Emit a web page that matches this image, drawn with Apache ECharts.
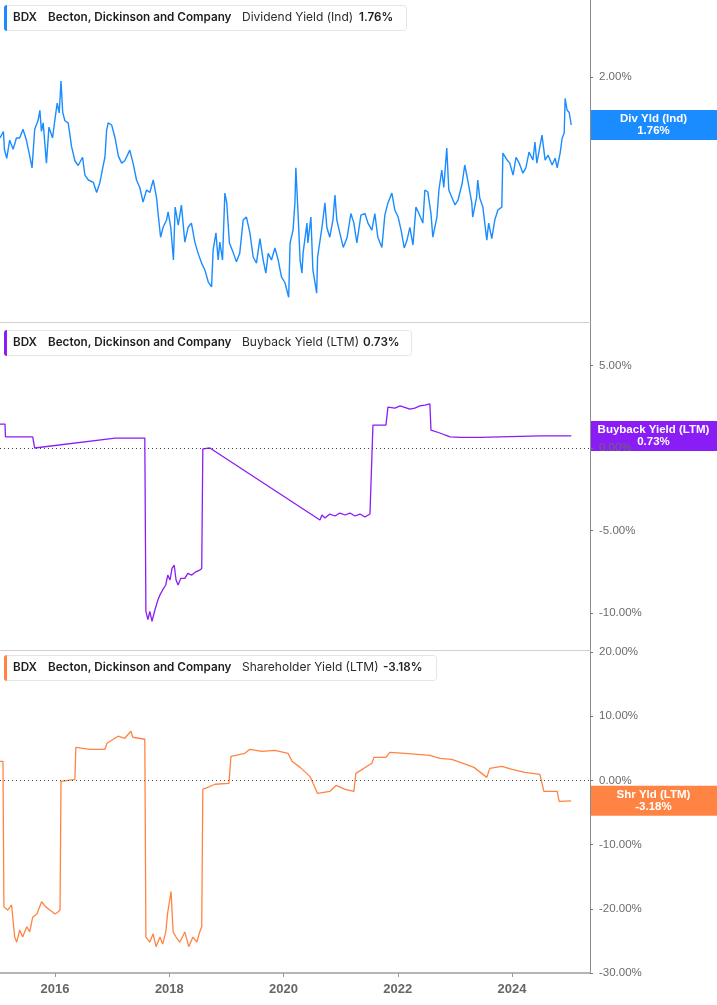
<!DOCTYPE html>
<html>
<head>
<meta charset="utf-8">
<script src="https://cdn.jsdelivr.net/npm/echarts@6/dist/echarts.min.js"></script>
<style>
html,body{margin:0;padding:0;background:#fff;}
#chart{width:717px;height:1005px;}
</style>
</head>
<body>
<div id="chart"></div>
<script>
// ---------- DATA ----------
const TICKER = 'BDX';
const COMPANY = 'Becton, Dickinson and Company';
const METRICS = ['Dividend Yield (Ind)', 'Buyback Yield (LTM)', 'Shareholder Yield (LTM)'];
const SHORT_NAMES = ['Div Yld (Ind)', 'Buyback Yield (LTM)', 'Shr Yld (LTM)'];
const LAST_VALUES = [1.76, 0.73, -3.18];
const YEAR_TICKS = ['2016-01-01','2018-01-01','2020-01-01','2022-01-01','2024-01-01'];
const DIV_TICKS = [2];
const BUY_TICKS = [5, 0, -5, -10];
const SHR_TICKS = [20, 10, 0, -10, -20, -30];

const dyDates = ['2015-01-14','2015-02-05','2015-02-11','2015-02-26','2015-03-17','2015-04-08','2015-04-29','2015-05-20','2015-06-10','2015-07-02','2015-07-23','2015-08-07','2015-08-24','2015-09-14','2015-09-26','2015-10-06','2015-10-17','2015-11-07','2015-11-23','2015-12-16',
'2016-01-01','2016-01-15','2016-01-28','2016-02-08','2016-02-19','2016-03-04','2016-03-25','2016-04-16','2016-05-07','2016-05-28','2016-06-25','2016-07-10','2016-08-01','2016-09-02','2016-09-23','2016-10-14','2016-11-04','2016-11-15','2016-11-26','2016-12-06','2016-12-28',
'2017-01-19','2017-02-09','2017-03-02','2017-03-22','2017-04-23','2017-05-14','2017-06-05','2017-06-26','2017-07-17','2017-08-08','2017-08-29','2017-09-20','2017-10-11','2017-10-21','2017-11-06','2017-11-22','2017-12-14','2017-12-24',
'2018-01-10','2018-01-27','2018-02-07','2018-02-27','2018-03-19','2018-04-10','2018-05-01','2018-05-22','2018-06-13','2018-07-04','2018-07-26','2018-08-16','2018-09-07','2018-09-28','2018-10-08','2018-10-26','2018-11-09','2018-11-20','2018-12-07','2018-12-22',
'2019-01-03','2019-01-20','2019-02-15','2019-03-06','2019-03-27','2019-04-18','2019-05-09','2019-05-31','2019-06-21','2019-07-12','2019-08-03','2019-08-24','2019-09-10','2019-09-25','2019-10-16','2019-11-07','2019-11-28','2019-12-19',
'2020-01-11','2020-02-03','2020-02-12','2020-03-02','2020-03-14','2020-03-20','2020-04-03','2020-04-16','2020-04-28','2020-05-05','2020-05-30','2020-06-05','2020-06-24','2020-07-07','2020-07-31','2020-08-06','2020-09-03','2020-09-22','2020-10-04','2020-10-23','2020-11-12','2020-11-25','2020-12-07','2020-12-26',
'2021-01-17','2021-02-11','2021-03-07','2021-03-26','2021-04-14','2021-05-10','2021-06-05','2021-06-24','2021-07-19','2021-08-07','2021-08-26','2021-09-21','2021-10-10','2021-10-30','2021-11-24','2021-12-13',
'2022-01-03','2022-01-22','2022-02-11','2022-03-01','2022-03-19','2022-04-08','2022-04-27','2022-05-16','2022-06-10','2022-06-23','2022-07-12','2022-08-01','2022-08-13','2022-09-08','2022-09-21','2022-10-09','2022-10-22','2022-11-10','2022-11-23','2022-12-12',
'2023-01-02','2023-01-21','2023-02-17','2023-03-05','2023-03-24','2023-04-19','2023-04-25','2023-05-20','2023-05-27','2023-06-09','2023-06-29','2023-07-24','2023-08-05','2023-08-25','2023-09-13','2023-10-03','2023-10-28','2023-11-04','2023-12-01','2023-12-18',
'2024-01-08','2024-01-27','2024-02-16','2024-03-11','2024-03-30','2024-04-19','2024-05-14','2024-05-27','2024-06-08','2024-07-11','2024-07-31','2024-08-19','2024-09-14','2024-10-03','2024-10-16','2024-11-04','2024-11-17','2024-11-30','2024-12-06','2024-12-18',
'2025-01-01','2025-01-14'];
const dyValues = [1.70,1.73,1.65,1.61,1.69,1.65,1.70,1.70,1.74,1.69,1.62,1.57,1.74,1.78,1.83,1.73,1.77,1.59,1.75,1.70,
1.79,1.866,1.817,1.979,1.82,1.78,1.77,1.66,1.60,1.58,1.615,1.54,1.52,1.51,1.47,1.51,1.58,1.615,1.736,1.77,1.76,
1.70,1.62,1.59,1.60,1.646,1.59,1.52,1.49,1.433,1.48,1.47,1.52,1.45,1.39,1.305,1.34,1.366,1.396,
1.34,1.228,1.414,1.348,1.422,1.288,1.34,1.355,1.288,1.25,1.218,1.196,1.158,1.143,1.261,1.32,1.228,1.288,1.228,1.468,
1.43,1.285,1.25,1.222,1.25,1.366,1.377,1.32,1.238,1.218,1.30,1.228,1.186,1.25,1.228,1.268,1.228,1.174,
1.155,1.112,1.285,1.33,1.43,1.57,1.39,1.228,1.186,1.25,1.355,1.285,1.377,1.196,1.124,1.238,1.34,1.43,1.34,1.305,1.366,1.46,1.366,1.32,
1.27,1.305,1.39,1.355,1.285,1.384,1.39,1.355,1.33,1.39,1.305,1.27,1.384,1.43,1.468,1.403,
1.377,1.33,1.268,1.295,1.34,1.278,1.414,1.39,1.355,1.48,1.472,1.39,1.305,1.377,1.48,1.561,1.49,1.655,1.48,1.452,
1.422,1.441,1.508,1.582,1.52,1.43,1.377,1.452,1.52,1.449,1.414,1.295,1.355,1.30,1.366,1.403,1.414,1.633,1.603,1.59,
1.54,1.615,1.59,1.548,1.57,1.637,1.603,1.682,1.59,1.713,1.603,1.624,1.582,1.611,1.57,1.633,1.70,1.722,1.889,1.832,
1.82,1.76];

const bbDates = ['2015-01-14','2015-02-15','2015-02-18','2015-08-11','2015-08-24','2017-01-19','2017-07-28','2017-08-04','2017-08-17','2017-08-29','2017-09-12','2017-10-01','2017-10-20','2017-11-02','2017-11-19','2017-12-09','2017-12-22',
'2018-01-05','2018-01-18','2018-02-01','2018-02-13','2018-02-26','2018-03-15','2018-04-10','2018-04-29','2018-05-24','2018-06-19','2018-07-14','2018-07-27','2018-08-03','2018-09-17',
'2020-08-21','2020-09-03','2020-09-22','2020-10-23','2020-11-25','2020-12-26','2021-01-29','2021-03-01','2021-04-02','2021-05-04','2021-06-05','2021-07-07','2021-07-19','2021-07-26','2021-10-17','2021-10-30','2021-12-13',
'2022-01-16','2022-03-19','2022-04-20','2022-05-22','2022-06-23','2022-07-25','2022-08-01','2022-09-27','2022-10-29','2022-12-01','2023-02-03','2023-06-09','2023-10-16','2024-02-22','2024-06-28','2024-11-04','2025-01-14'];
const bbValues = [1.45,1.45,0.67,0.67,0.0,0.6,0.6,-9.9,-10.4,-9.9,-10.5,-9.8,-9.2,-8.9,-8.6,-8.3,-7.7,
-8.0,-7.3,-7.1,-8.0,-8.3,-7.9,-7.9,-7.6,-7.7,-7.5,-7.4,-7.3,-0.05,0.0,
-4.36,-4.06,-4.24,-4.0,-4.12,-3.94,-4.06,-3.94,-4.12,-4.0,-4.18,-4.0,-3.94,1.39,1.39,2.48,2.42,
2.55,2.36,2.42,2.55,2.6,2.67,1.09,0.91,0.79,0.67,0.64,0.64,0.67,0.70,0.73,0.73,0.73];

const syDates = ['2015-01-14','2015-02-02','2015-02-08','2015-03-04','2015-03-29','2015-04-18','2015-05-01','2015-05-20','2015-06-08','2015-07-04','2015-07-23','2015-08-11','2015-09-07','2015-10-07','2015-11-03','2015-11-28',
'2016-01-01','2016-01-20','2016-02-02','2016-02-08','2016-05-07','2016-05-13','2016-08-11','2016-11-15','2016-11-28',
'2017-02-07','2017-03-22','2017-04-30','2017-05-12','2017-07-28','2017-08-04','2017-08-29','2017-09-19','2017-10-08','2017-11-02','2017-11-19','2017-12-09','2017-12-22',
'2018-01-12','2018-01-25','2018-02-13','2018-03-09','2018-04-10','2018-05-05','2018-06-01','2018-06-26','2018-07-14','2018-07-27','2018-08-03','2018-10-20',
'2019-01-17','2019-01-30','2019-04-29','2019-05-31','2019-08-16','2019-11-07',
'2020-01-30','2020-02-24','2020-04-16','2020-06-18','2020-08-06','2020-10-23','2020-12-02',
'2021-01-29','2021-03-26','2021-04-08','2021-07-19','2021-08-01','2021-10-17','2021-11-11',
'2022-02-17','2022-07-25','2022-09-27','2022-12-12',
'2023-02-23','2023-05-03','2023-07-24','2023-08-12','2023-10-28',
'2024-01-02','2024-03-24','2024-06-28','2024-07-23','2024-10-16','2024-10-29','2025-01-14'];
const syValues = [2.97,2.97,-19.7,-20.2,-19.4,-24.4,-25.2,-23.3,-24.4,-22.8,-23.6,-21.3,-20.8,-18.9,-19.7,-20.2,
-20.8,-20.5,-20.2,-0.16,0.16,5.16,4.84,4.84,5.78,
6.88,6.56,7.66,6.72,6.41,-24.4,-25.2,-23.9,-25.9,-24.4,-25.5,-23.6,-20.5,
-17.3,-23.6,-24.4,-25.2,-23.6,-25.9,-24.4,-25.2,-23.6,-22.8,-1.4,-0.6,
-0.47,3.75,4.22,4.84,4.53,4.69,
4.22,2.97,2.03,0.63,-2.03,-1.72,-0.78,
-1.41,-1.72,1.09,2.66,3.59,3.59,4.38,
4.22,3.91,3.44,3.28,
2.66,2.03,0.47,1.88,2.19,
1.72,1.25,0.94,-1.72,-1.72,-3.28,-3.18];

// ---------- HELPERS ----------
const ts = s => { const p = s.split('-').map(Number); return new Date(p[0], p[1] - 1, p[2]).getTime(); };
const pairs = (d, v) => d.map((s, i) => [ts(s), v[i]]);
const X_MIN = ts('2015-01-14');
const X_MAX = ts('2025-05-14');

const COLORS = ['#1a8cff', '#8a1cf5', '#ff8443'];
const AX_FONT = 'Liberation Sans';
const pct = v => (Math.abs(v) < 1e-9 ? 0 : v).toFixed(2) + '%';

const grids = [
  {left: 0, right: 127, top: 0, height: 322},
  {left: 0, right: 127, top: 323, height: 327},
  {left: 0, right: 127, top: 651, height: 322}
];

function xAxis(i) {
  const last = i === 2;
  const tickVals = YEAR_TICKS.map(ts);
  return {
    type: 'value', gridIndex: i, min: X_MIN, max: X_MAX,
    axisLine: {show: true, onZero: false, lineStyle: {color: last ? '#b5b5b5' : '#d0d0d0', width: last ? 2 : 1}},
    axisTick: {show: last, length: 4, lineStyle: {color: '#999'}, customValues: tickVals},
    axisLabel: {show: last, customValues: tickVals, formatter: v => String(new Date(v).getFullYear()),
      color: '#666', fontWeight: 'bold', fontSize: 13, fontFamily: AX_FONT, margin: 10},
    splitLine: {show: false}
  };
}

function yAxis(i, type, min, max, ticks) {
  const o = {
    type: type, gridIndex: i, position: 'right', min: min, max: max,
    axisLine: {show: true, onZero: false, lineStyle: {color: '#8c8c8c', width: 1}},
    axisTick: {show: true, length: 3, lineStyle: {color: '#777'}, customValues: ticks},
    axisLabel: {show: true, customValues: ticks, formatter: pct, color: '#6b6b6b', fontSize: 11.5, fontFamily: AX_FONT, margin: 9},
    splitLine: {show: false}
  };
  if (type === 'log') o.logBase = 2;
  return o;
}

const zeroLine = {
  silent: true, symbol: 'none', label: {show: false},
  lineStyle: {type: [1, 3], color: '#444', width: 1},
  data: [{yAxis: 0}]
};

const chart = echarts.init(document.getElementById('chart'), null, {renderer: 'canvas'});
chart.setOption({
  animation: false,
  backgroundColor: '#fff',
  grid: grids,
  xAxis: [xAxis(0), xAxis(1), xAxis(2)],
  yAxis: [
    yAxis(0, 'log', 1.041, 2.456, DIV_TICKS),
    yAxis(1, 'value', -12.24, 7.576, BUY_TICKS),
    yAxis(2, 'value', -30, 20.156, SHR_TICKS)
  ],
  series: [
    {type: 'line', xAxisIndex: 0, yAxisIndex: 0, data: pairs(dyDates, dyValues), showSymbol: false,
      lineStyle: {color: COLORS[0], width: 1.4}, itemStyle: {color: COLORS[0]}},
    {type: 'line', xAxisIndex: 1, yAxisIndex: 1, data: pairs(bbDates, bbValues), showSymbol: false,
      lineStyle: {color: COLORS[1], width: 1.3}, itemStyle: {color: COLORS[1]}, markLine: zeroLine},
    {type: 'line', xAxisIndex: 2, yAxisIndex: 2, data: pairs(syDates, syValues), showSymbol: false,
      lineStyle: {color: COLORS[2], width: 1.3}, itemStyle: {color: COLORS[2]}, markLine: zeroLine}
  ]
});

// ---------- HEADERS & VALUE BOXES ----------
const HEAD_FONT = '"Inter", "Noto Sans", sans-serif';
function header(y, w, color, metric, value, valueX) {
  const cy = y + 12.5;
  return {
    type: 'group', z: 100,
    children: [
      {type: 'rect', shape: {x: 4.5, y: y + 0.5, width: w, height: 25, r: 3}, style: {fill: '#fff', stroke: '#e6e6e6', lineWidth: 1}},
      {type: 'rect', shape: {x: 4, y: y, width: 3, height: 26, r: [3, 0, 0, 3]}, style: {fill: color}},
      {type: 'text', x: 13, y: cy, style: {text: TICKER, font: '600 11.7px ' + HEAD_FONT, fill: '#1e1e1e', verticalAlign: 'middle'}},
      {type: 'text', x: 48, y: cy, style: {text: COMPANY, font: '600 11.7px ' + HEAD_FONT, fill: '#1e1e1e', verticalAlign: 'middle'}},
      {type: 'text', x: 242, y: cy, style: {text: metric, font: '12px ' + HEAD_FONT, fill: '#2a2a2a', verticalAlign: 'middle'}},
      {type: 'text', x: valueX, y: cy, style: {text: value, font: '600 11.7px ' + HEAD_FONT, fill: '#1e1e1e', verticalAlign: 'middle'}}
    ]
  };
}
function valueBox(yPix, color, l1, l2) {
  return {
    type: 'group', z: 100,
    children: [
      {type: 'rect', shape: {x: 590.5, y: yPix - 15, width: 127, height: 30}, style: {fill: color}},
      {type: 'text', x: 653.5, y: yPix, style: {text: l1 + '\n' + l2, font: 'bold 11.5px ' + AX_FONT, fill: '#fff',
        align: 'center', verticalAlign: 'middle', lineHeight: 12}}
    ]
  };
}

const graphics = [
  header(5, 402, COLORS[0], METRICS[0], pct(LAST_VALUES[0]), 359),
  header(330, 407, COLORS[1], METRICS[1], pct(LAST_VALUES[1]), 363),
  header(655, 432, COLORS[2], METRICS[2], pct(LAST_VALUES[2]), 383)
];
for (let i = 0; i < 3; i++) {
  const yp = chart.convertToPixel({yAxisIndex: i}, LAST_VALUES[i]);
  graphics.push(valueBox(yp, COLORS[i], SHORT_NAMES[i], pct(LAST_VALUES[i])));
}
chart.setOption({graphic: graphics});
</script>
</body>
</html>
